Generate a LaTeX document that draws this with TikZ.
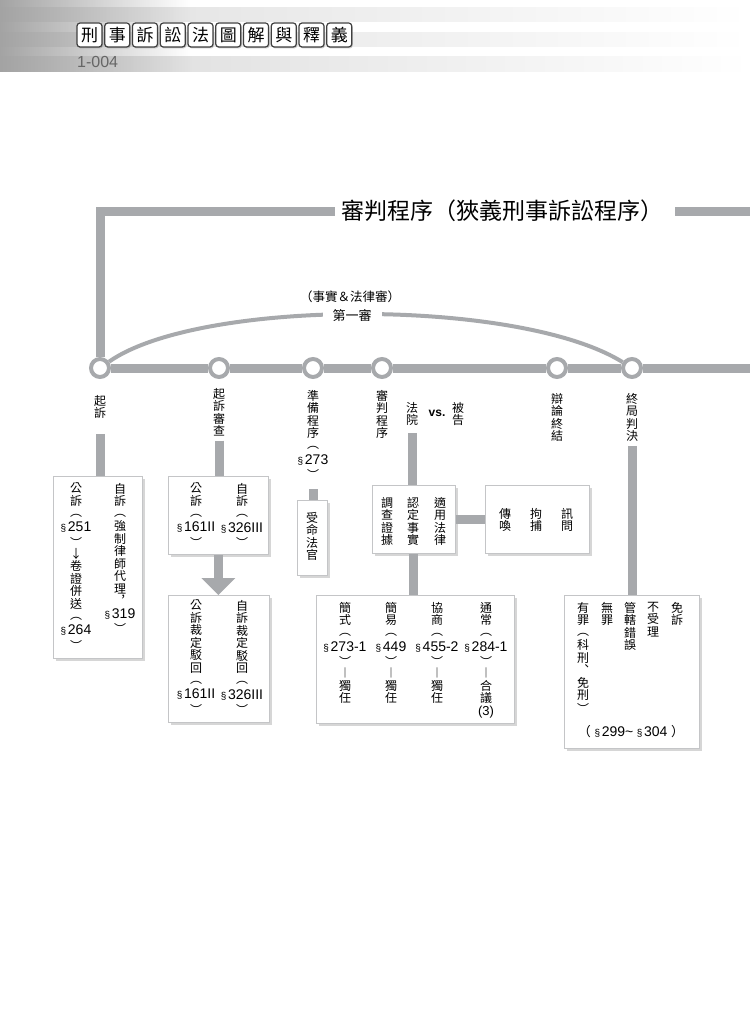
\documentclass[tikz,border=0pt]{standalone}
\usepackage{fontspec}
\setmainfont{Liberation Sans}
\newfontfamily\cjk{Noto Sans CJK TC}
\newfontfamily\latin{Liberation Sans}
\usetikzlibrary{arrows.meta,shadows,fadings}
\definecolor{railgray}{RGB}{167,169,172}
\definecolor{boxline}{RGB}{196,197,199}
\tikzfading[name=fade right, left color=transparent!0, right color=transparent!100]
\newcommand{\secno}[1]{{\latin\fontsize{10}{10}\selectfont\S\,}{\latin\fontsize{14}{12}\selectfont #1}}
\newcommand{\po}{\raisebox{1.5pt}{︵}}
\newcommand{\pc}{\raisebox{-1.5pt}{︶}}
\begin{document}
\begin{tikzpicture}[x=1pt,y=-1pt]
      % Define styles for nodes
      \tikzstyle{box} = [anchor=north west, draw=boxline, rectangle, fill=white,
      line width=0.8pt, drop shadow={shadow xshift=2.5pt,shadow yshift=-2.5pt,
      fill=black!40,opacity=.4}]
      \tikzstyle{vtext} = [anchor=north, align=center, inner sep=0pt,
      font=\cjk\fontsize{12}{12.5}\selectfont]
      \tikzstyle{station} = [circle, draw=railgray, line width=4pt, fill=white,
      minimum size=18pt, inner sep=0pt]
      \tikzstyle{rail} = [line width=9pt, railgray]
      \tikzstyle{conn} = [line width=9pt, railgray]
      \tikzstyle{hbox} = [draw=black!75, line width=1.2pt, rounded corners=3pt,
      fill=white, minimum width=25pt, minimum height=24pt, inner sep=0pt,
      font=\cjk\fontsize{17}{17}\selectfont, drop shadow={shadow xshift=1pt,
      shadow yshift=-1.5pt,fill=black!50,opacity=.4}]

      \useasboundingbox (0,0) rectangle (750,1011);

      % Header band
      \shade[left color=black!13, right color=white] (0,8) rectangle (750,22);
      \shade[left color=black!13, right color=white] (0,33) rectangle (750,47);
      \shade[left color=black!15, right color=white] (0,57) rectangle (750,72);
      \fill[black!36, path fading=fade right] (0,0) rectangle (190,72);

      \node[hbox] (hb1) at (89.5,35) {刑};
      \node[hbox] (hb2) at (117.25,35) {事};
      \node[hbox] (hb3) at (145,35) {訴};
      \node[hbox] (hb4) at (172.75,35) {訟};
      \node[hbox] (hb5) at (200.5,35) {法};
      \node[hbox] (hb6) at (228.25,35) {圖};
      \node[hbox] (hb7) at (256,35) {解};
      \node[hbox] (hb8) at (283.75,35) {與};
      \node[hbox] (hb9) at (311.5,35) {釋};
      \node[hbox] (hb10) at (339.25,35) {義};
      \node[anchor=west, inner sep=0pt, text=black!60, font=\latin\fontsize{16}{16}\selectfont]
      (pageno) at (77,62) {1-004};

      % Title and stations
      \node[inner sep=0pt, font=\cjk\fontsize{23}{23}\selectfont] (title) at (502,211)
      {審判程序（狹義刑事訴訟程序）};
      \coordinate (titleend) at (750,211);
      \coordinate (railend) at (750,368);

      \node[station] (st1) at (100,368) {};
      \node[station] (st2) at (219,368) {};
      \node[station] (st3) at (313,368) {};
      \node[station] (st4) at (382,368) {};
      \node[station] (st5) at (557,368) {};
      \node[station] (st6) at (632,368) {};

      \draw[rail] (st1.north) -- (st1.north |- title.west) -- ([xshift=-6pt]title.west);
      \draw[rail] ([xshift=12pt]title.east) -- (titleend);
      \draw[rail] (st1) -- (st2);
      \draw[rail] (st2) -- (st3);
      \draw[rail] (st3) -- (st4);
      \draw[rail] (st4) -- (st5);
      \draw[rail] (st5) -- (st6);
      \draw[rail] (st6) -- (railend);

      % First instance arc
      \draw[railgray, line width=4pt] (st1) .. controls (200,298) and (520,298) .. (st6);
      \node[fill=white, inner xsep=10pt, inner ysep=2pt, font=\cjk\fontsize{13}{13}\selectfont]
      (first) at (352,316) {第一審};
      \node[inner sep=0pt, font=\cjk\fontsize{12.5}{12.5}\selectfont] (instance) at (350,297)
      {（事實＆法律審）};

      % Labels under the stations
      \node[vtext] (lb1) at (100,395) {起\\訴};
      \node[vtext] (lb2) at (219,388) {起\\訴\\審\\查};
      \node[vtext] (lb3) at (313,390) {準\\備\\程\\序\\\po\\[1.5pt]\secno{273}\\[1.5pt]\pc};
      \node[vtext] (lb4) at (382,390) {審\\判\\程\\序};
      \node[vtext] (court) at (412,402) {法\\院};
      \node[inner sep=0pt, font=\latin\bfseries\fontsize{12}{12}\selectfont] (vs) at (437,413) {vs.};
      \node[vtext] (defendant) at (458,402) {被\\告};
      \node[vtext] (lb5) at (557,393) {辯\\論\\終\\結};
      \node[vtext] (lb6) at (632,393) {終\\局\\判\\決};

      % Boxes
      \node[box, minimum width=89pt, minimum height=182pt] (box1) at (53,476) {};
      \node[box, minimum width=100pt, minimum height=78pt] (box2) at (168,476) {};
      \node[box, minimum width=101pt, minimum height=127pt] (box3) at (168,595) {};
      \node[box, minimum width=30pt, minimum height=75pt] (box4) at (297,500) {};
      \node[box, minimum width=83pt, minimum height=68pt] (box5) at (372,485) {};
      \node[box, minimum width=104pt, minimum height=68pt] (box6) at (485,485) {};
      \node[box, minimum width=198pt, minimum height=128pt] (box7) at (316,595) {};
      \node[box, minimum width=135pt, minimum height=153pt] (box8) at (564,595) {};

      % Connections
      \draw[conn] ([yshift=-15pt]lb1.south) -- (lb1.south |- box1.north);
      \draw[conn] ([yshift=-4pt]lb2.south) -- (lb2.south |- box2.north);
      \draw[conn] ([yshift=-9pt]lb3.south) -- (lb3.south |- box4.north);
      \draw[conn] ([yshift=-7pt]court.south) -- (court.south |- box5.north);
      \draw[conn] ([yshift=-4pt]lb6.south) -- (lb6.south |- box8.north);
      \draw[conn] (box5) -- (box6);
      \draw[conn] (box5.south) -- (box5.south |- box7.north);
      \draw[conn, -{Triangle[width=33pt,length=17pt]}] (box2.south) -- (box2.south |- box3.north);

      % Prosecution
      \node[vtext] (b1l) at (76,483) {公\\訴\\\po\\[1.5pt]\secno{251}\\[1.5pt]\pc\\↓\\卷\\證\\併\\送\\\po\\[1.5pt]\secno{264}\\[1.5pt]\pc};
      \node[vtext] (b1r) at (120,483) {自\\訴\\\po\\強\\制\\律\\師\\代\\理\\︐\\\secno{319}\\[1.5pt]\pc};

      % Review of prosecution
      \node[vtext] (b2l) at (196,483) {公\\訴\\\po\\[1.5pt]\secno{161II}\\[1.5pt]\pc};
      \node[vtext] (b2r) at (242,483) {自\\訴\\\po\\[1.5pt]\secno{326III}\\[1.5pt]\pc};
      \node[vtext] (b3l) at (196,600) {公\\訴\\裁\\定\\駁\\回\\\po\\[1.5pt]\secno{161II}\\[1.5pt]\pc};
      \node[vtext] (b3r) at (242,600) {自\\訴\\裁\\定\\駁\\回\\\po\\[1.5pt]\secno{326III}\\[1.5pt]\pc};

      % Preparation and trial
      \node[vtext] (b4t) at (312,512) {受\\命\\法\\官};
      \node[vtext] (b5a) at (387,497) {調\\查\\證\\據};
      \node[vtext] (b5b) at (413,497) {認\\定\\事\\實};
      \node[vtext] (b5c) at (440,497) {適\\用\\法\\律};
      \node[vtext] (b6a) at (505,508) {傳\\喚};
      \node[vtext] (b6b) at (536,508) {拘\\捕};
      \node[vtext] (b6c) at (567,508) {訊\\問};

      % Kinds of trial
      \node[vtext] (b7a) at (345,602) {簡\\式\\\po\\[1.5pt]\secno{273-1}\\[1.5pt]\pc\\︱\\獨\\任};
      \node[vtext] (b7b) at (391,602) {簡\\易\\\po\\[1.5pt]\secno{449}\\[1.5pt]\pc\\︱\\獨\\任};
      \node[vtext] (b7c) at (437,602) {協\\商\\\po\\[1.5pt]\secno{455-2}\\[1.5pt]\pc\\︱\\獨\\任};
      \node[vtext] (b7d) at (486,602) {通\\常\\\po\\[1.5pt]\secno{284-1}\\[1.5pt]\pc\\︱\\合\\議\\{\latin\fontsize{13}{12}\selectfont(3)}};

      % Final judgment
      \node[vtext] (b8a) at (583,602) {有\\罪\\\po\\科\\刑\\︑\\免\\刑\\\pc};
      \node[vtext] (b8b) at (607,602) {無\\罪};
      \node[vtext] (b8c) at (630,602) {管\\轄\\錯\\誤};
      \node[vtext] (b8d) at (653,602) {不\\受\\理};
      \node[vtext] (b8e) at (677,602) {免\\訴};
      \node[inner sep=0pt, font=\cjk\fontsize{13}{13}\selectfont] (b8f) at (631,732)
      {（\;\secno{299}{\latin\fontsize{14}{12}\selectfont\textasciitilde}\;\secno{304}\;）};
\end{tikzpicture}
\end{document}
